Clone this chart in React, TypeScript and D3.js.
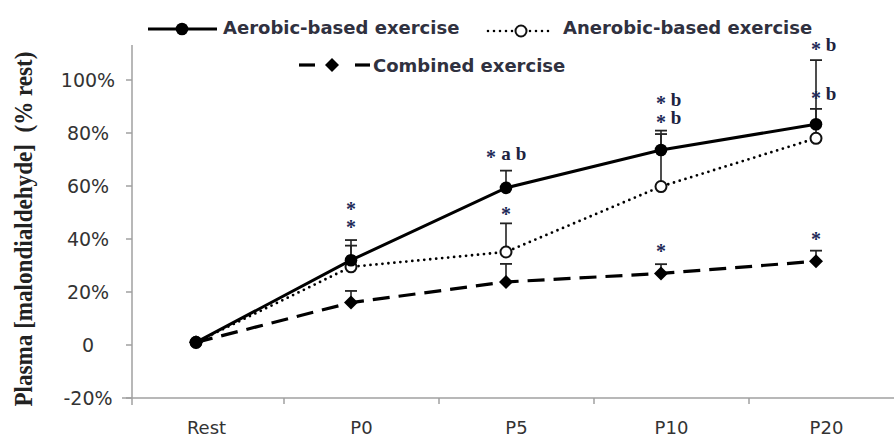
import React from "react";
import * as d3 from "d3";

const categories = ["Rest", "P0", "P5", "P10", "P20"];
const aerobic = [1, 32, 59.3, 73.6, 83.3];
const aerobicErr = [0, 7.6, 6.5, 7.3, 5.8];
const anaerobic = [1, 29.5, 35.1, 59.8, 78];
const anaerobicErr = [0, 8, 10.8, 19.8, 29.5];
const combined = [1, 16, 23.8, 27, 31.6];
const combinedErr = [0, 4.4, 6.8, 3.5, 4];
const yTicks = [-20, 0, 20, 40, 60, 80, 100];
const seriesNames = ["Aerobic-based exercise", "Anerobic-based exercise", "Combined exercise"];
const yTitle = "Plasma [malondialdehyde]  (% rest)";
const annotations = [
  { cat: "P0", y: 52.2, marks: ["*"], shift: 0 },
  { cat: "P0", y: 45.3, marks: ["*"], shift: 0 },
  { cat: "P5", y: 71.7, marks: ["*", "a", "b"], shift: -1 },
  { cat: "P5", y: 50.3, marks: ["*"], shift: 0 },
  { cat: "P10", y: 92.2, marks: ["*", "b"], shift: 0 },
  { cat: "P10", y: 85.2, marks: ["*", "b"], shift: 0 },
  { cat: "P10", y: 36.6, marks: ["*"], shift: 0 },
  { cat: "P20", y: 112.8, marks: ["*", "b"], shift: 0 },
  { cat: "P20", y: 94.3, marks: ["*", "b"], shift: 0 },
  { cat: "P20", y: 40.9, marks: ["*"], shift: 0 },
];

const W = 894;
const H = 439;
const axisColor = "#a0a0a0";
const textColor = "#333";
const legendColor = "#30313f";
const starColor = "#1f2a58";
const letterColor = "#1d2340";
const sans = "'DejaVu Sans', sans-serif";
const serif = "'Liberation Serif', 'Times New Roman', serif";

type Marker = "circle" | "open" | "diamond";
const series: { name: string; values: number[]; err: number[]; dash: string | null; width: number; marker: Marker; cap: string }[] = [
  { name: seriesNames[2], values: combined, err: combinedErr, dash: "17 9", width: 3.2, marker: "diamond", cap: "butt" },
  { name: seriesNames[1], values: anaerobic, err: anaerobicErr, dash: "0 6", width: 2.8, marker: "open", cap: "round" },
  { name: seriesNames[0], values: aerobic, err: aerobicErr, dash: null, width: 3, marker: "circle", cap: "butt" },
];

function MarkerShape({ type, cx, cy }: { type: Marker; cx: number; cy: number }) {
  if (type === "circle") return <circle cx={cx} cy={cy} r={6.3} fill="#000" />;
  if (type === "open") return <circle cx={cx} cy={cy} r={5.5} fill="#fff" stroke="#111" strokeWidth={2} />;
  const s = 7;
  return <path d={`M${cx},${cy - s}L${cx + s},${cy}L${cx},${cy + s}L${cx - s},${cy}Z`} fill="#000" />;
}

export default function App() {
  const x = d3.scaleBand<string>().domain(categories).range([129, 904]).paddingInner(0).paddingOuter(0);
  const y = d3.scaleLinear().domain([-20, 100]).range([398, 80]);
  const bw = x.bandwidth();
  const markOffset = -10.5;
  const px = (c: string) => (x(c) as number) + bw / 2 + markOffset;
  const yAxisX = 132;
  const yTop = y(113.2);
  const yBottom = y(-20);

  const line = d3
    .line<number>()
    .x((_, i) => px(categories[i]))
    .y((d) => y(d));

  return (
    <svg width={W} height={H} style={{ position: "absolute", left: 0, top: 0, background: "#fff" }}>
      <rect width={W} height={H} fill="#fff" />
      {/* Y axis */}
      <line x1={yAxisX} x2={yAxisX} y1={yTop} y2={yBottom + 7} stroke={axisColor} strokeWidth={1.5} />
      {yTicks.map((t) => (
        <g key={t}>
          <line x1={yAxisX - 6} x2={yAxisX} y1={y(t)} y2={y(t)} stroke={axisColor} strokeWidth={1.5} />
          <text x={88} y={y(t)} dy="0.36em" textAnchor="middle" fontFamily={sans} fontSize={19} fill={textColor}>
            {t === 0 ? "0" : `${t}%`}
          </text>
        </g>
      ))}
      {/* X axis */}
      <line x1={122} x2={W} y1={yBottom} y2={yBottom} stroke={axisColor} strokeWidth={1.5} />
      {categories.slice(1).map((c) => (
        <line key={c} x1={x(c) as number} x2={x(c) as number} y1={yBottom} y2={yBottom + 6} stroke={axisColor} strokeWidth={1.5} />
      ))}
      {categories.map((c) => (
        <text key={c} x={(x(c) as number) + bw / 2} y={434} textAnchor="middle" fontFamily={sans} fontSize={18} fill={textColor}>
          {c}
        </text>
      ))}
      {/* Y title */}
      <text
        transform={`translate(32,${229}) rotate(-90)`}
        textAnchor="middle"
        fontFamily={serif}
        fontWeight="bold"
        fontSize={25}
        fill="#222"
        textLength={355}
        lengthAdjust="spacingAndGlyphs"
        style={{ whiteSpace: "pre" }}
      >
        {yTitle}
      </text>
      {/* error bars */}
      {series.map((s) =>
        s.values.map((v, i) =>
          s.err[i] > 0 ? (
            <g key={s.name + i}>
              <line x1={px(categories[i])} x2={px(categories[i])} y1={y(v)} y2={y(v + s.err[i])} stroke="#222" strokeWidth={1.6} />
              <line x1={px(categories[i]) - 6} x2={px(categories[i]) + 6} y1={y(v + s.err[i])} y2={y(v + s.err[i])} stroke="#222" strokeWidth={1.8} />
            </g>
          ) : null
        )
      )}
      {/* lines */}
      {series.map((s) => (
        <path
          key={s.name}
          d={line(s.values) as string}
          fill="none"
          stroke="#000"
          strokeWidth={s.width}
          strokeDasharray={s.dash ?? undefined}
          strokeLinecap={s.cap as any}
        />
      ))}
      {/* markers */}
      {series.map((s) =>
        s.values.map((v, i) => <MarkerShape key={s.name + "m" + i} type={s.marker} cx={px(categories[i])} cy={y(v)} />)
      )}
      {/* annotations */}
      {annotations.map((a, k) => {
        const cx = px(a.cat);
        const cy = y(a.y);
        return (
          <g key={k}>
            {a.marks.map((m, i) =>
              m === "*" ? (
                <text key={i} x={cx + (i + a.shift) * 15} y={cy + 9.5} textAnchor="middle" fontFamily={serif} fontWeight="bold" fontSize={20} fill={starColor}>
                  *
                </text>
              ) : (
                <text key={i} x={cx + (i + a.shift) * 15} y={cy + 5} textAnchor="middle" fontFamily={serif} fontWeight="bold" fontSize={19} fill={letterColor}>
                  {m}
                </text>
              )
            )}
          </g>
        );
      })}
      {/* legend */}
      <g>
        <line x1={148} x2={217} y1={29} y2={29} stroke="#000" strokeWidth={3} />
        <MarkerShape type="circle" cx={182} cy={29} />
        <text x={223} y={34} fontFamily={sans} fontWeight="bold" fontSize={18} fill={legendColor}>
          {seriesNames[0]}
        </text>
        <line x1={488} x2={551} y1={31} y2={31} stroke="#000" strokeWidth={2.6} strokeDasharray="0 6" strokeLinecap="round" />
        <MarkerShape type="open" cx={521} cy={31} />
        <text x={563} y={34} fontFamily={sans} fontWeight="bold" fontSize={18} fill={legendColor}>
          {seriesNames[1]}
        </text>
        <line x1={299} x2={315} y1={65} y2={65} stroke="#000" strokeWidth={3.2} />
        <line x1={355} x2={370} y1={65} y2={65} stroke="#000" strokeWidth={3.2} />
        <MarkerShape type="diamond" cx={332} cy={65} />
        <text x={373} y={72} fontFamily={sans} fontWeight="bold" fontSize={18} fill={legendColor}>
          {seriesNames[2]}
        </text>
      </g>
    </svg>
  );
}
